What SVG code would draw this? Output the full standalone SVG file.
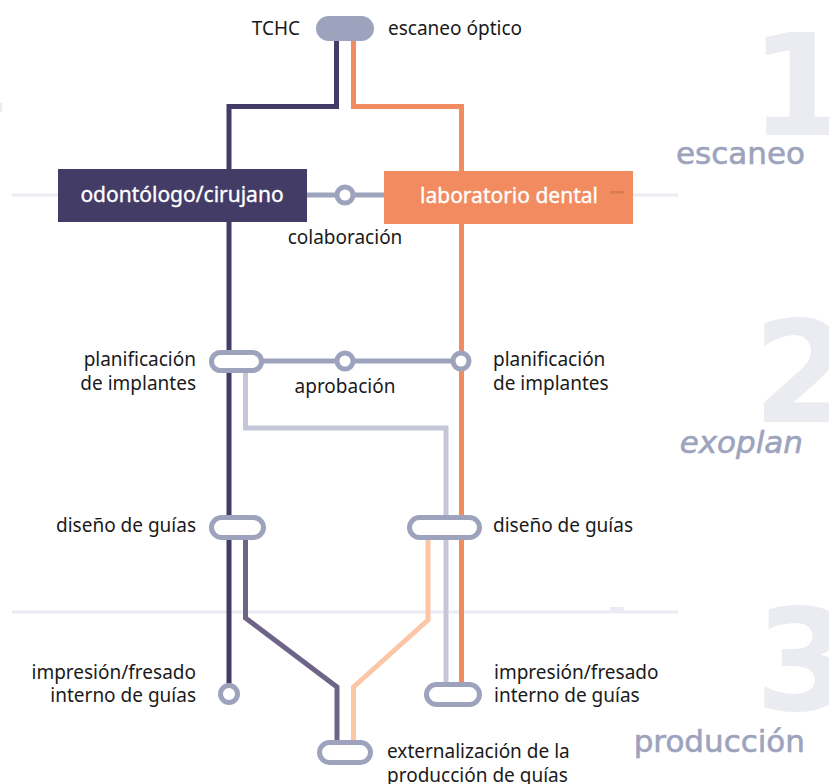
<svg xmlns="http://www.w3.org/2000/svg" width="829" height="784" viewBox="0 0 829 784">
<style>
.lbl{font-family:"Noto Sans","Liberation Sans",sans-serif;font-size:19px;fill:#1a1a1a}
.box{font-family:"Noto Sans","Liberation Sans",sans-serif;font-size:21px;fill:#ffffff;stroke:#ffffff;stroke-width:0.35}
.sec{font-family:"DejaVu Sans","Liberation Sans",sans-serif;font-size:31px;fill:#9ea3bd;stroke:#9ea3bd;stroke-width:0.6}
.dig{font-family:"DejaVu Sans","Liberation Sans",sans-serif;font-size:140px;font-weight:bold;fill:#ebebf2}
.ln{fill:none;stroke-width:5;stroke-linejoin:miter;stroke-linecap:butt}
.node{fill:#ffffff;stroke:#9ea3bd;stroke-width:5}
</style>
<rect width="829" height="784" fill="#ffffff"/>
<g id="background">
<rect x="12" y="193.5" width="666" height="3" fill="#ebebf3"/>
<rect x="12" y="610.5" width="666" height="3" fill="#ebebf3"/>
<rect x="610" y="607" width="14" height="4" fill="#ebebf3"/>
<rect x="0" y="103" width="2" height="9" fill="#ebebf3"/>
<text class="dig" x="750" y="135">1</text>
<text class="dig" x="753" y="422">2</text>
<text class="dig" x="755" y="710">3</text>
<text class="sec" x="805" y="164" text-anchor="end">escaneo</text>
<text class="sec" x="803" y="453" text-anchor="end" font-style="italic">exoplan</text>
<text class="sec" x="805" y="752" text-anchor="end">producción</text>
</g>
<g id="connectors">
<path class="ln" stroke="#9ea3bd" d="M307 195H384"/>
<path class="ln" stroke="#9ea3bd" d="M261 361H461"/>
<path class="ln" stroke="#c5c7d8" d="M245.5 372V428H446V684"/>
<path class="ln" stroke="#433c66" d="M336.5 40V106.5H229V684"/>
<path class="ln" stroke="#f28c60" d="M353.5 40V106.5H461.5V684"/>
<path class="ln" stroke="#6e6488" d="M245.5 538V618L337 687V743"/>
<path class="ln" stroke="#fbc6a6" d="M428 538V620L353.5 687V743"/>
</g>
<g id="node-tchc">
<rect x="316" y="16" width="58" height="25" rx="12.5" fill="#9ea3bd"/>
<text class="lbl" x="300" y="35" text-anchor="end">TCHC</text>
<text class="lbl" x="388" y="35">escaneo óptico</text>
</g>
<g id="node-odontologo">
<rect x="58" y="169" width="249" height="53" fill="#433c66"/>
<text class="box" x="182" y="202" text-anchor="middle">odontólogo/cirujano</text>
</g>
<g id="node-laboratorio">
<rect x="384" y="171" width="249" height="53" fill="#f28c60"/>
<rect x="610" y="191" width="14" height="2.5" fill="#d97b53"/>
<text class="box" x="509" y="203" text-anchor="middle">laboratorio dental</text>
</g>
<g id="node-colaboracion">
<circle class="node" cx="345" cy="195" r="8"/>
<text class="lbl" x="345" y="244" text-anchor="middle">colaboración</text>
</g>
<g id="node-planificacion-left">
<rect class="node" x="211.5" y="352.5" width="50" height="18" rx="9"/>
<text class="lbl" x="196" y="366" text-anchor="end">planificación</text>
<text class="lbl" x="196" y="390" text-anchor="end">de implantes</text>
</g>
<g id="node-aprobacion">
<circle class="node" cx="345" cy="361" r="8"/>
<text class="lbl" x="345" y="393" text-anchor="middle">aprobación</text>
</g>
<g id="node-planificacion-right">
<circle class="node" cx="461" cy="361" r="8"/>
<text class="lbl" x="493" y="366">planificación</text>
<text class="lbl" x="493" y="390">de implantes</text>
</g>
<g id="node-diseno-left">
<rect class="node" x="211.5" y="517.5" width="52" height="20" rx="10"/>
<text class="lbl" x="196" y="532" text-anchor="end">diseño de guías</text>
</g>
<g id="node-diseno-right">
<rect class="node" x="409.5" y="517.5" width="70" height="20" rx="10"/>
<text class="lbl" x="493" y="532">diseño de guías</text>
</g>
<g id="node-impresion-left">
<circle class="node" cx="229" cy="694" r="8.5"/>
<text class="lbl" x="196" y="679" text-anchor="end">impresión/fresado</text>
<text class="lbl" x="196" y="702" text-anchor="end">interno de guías</text>
</g>
<g id="node-impresion-right">
<rect class="node" x="426.5" y="684.5" width="53" height="20" rx="10"/>
<text class="lbl" x="494" y="679">impresión/fresado</text>
<text class="lbl" x="494" y="702">interno de guías</text>
</g>
<g id="node-externalizacion">
<rect class="node" x="319.5" y="742.5" width="51" height="20" rx="10"/>
<text class="lbl" x="387" y="758">externalización de la</text>
<text class="lbl" x="387" y="782">producción de guías</text>
</g>
</svg>
